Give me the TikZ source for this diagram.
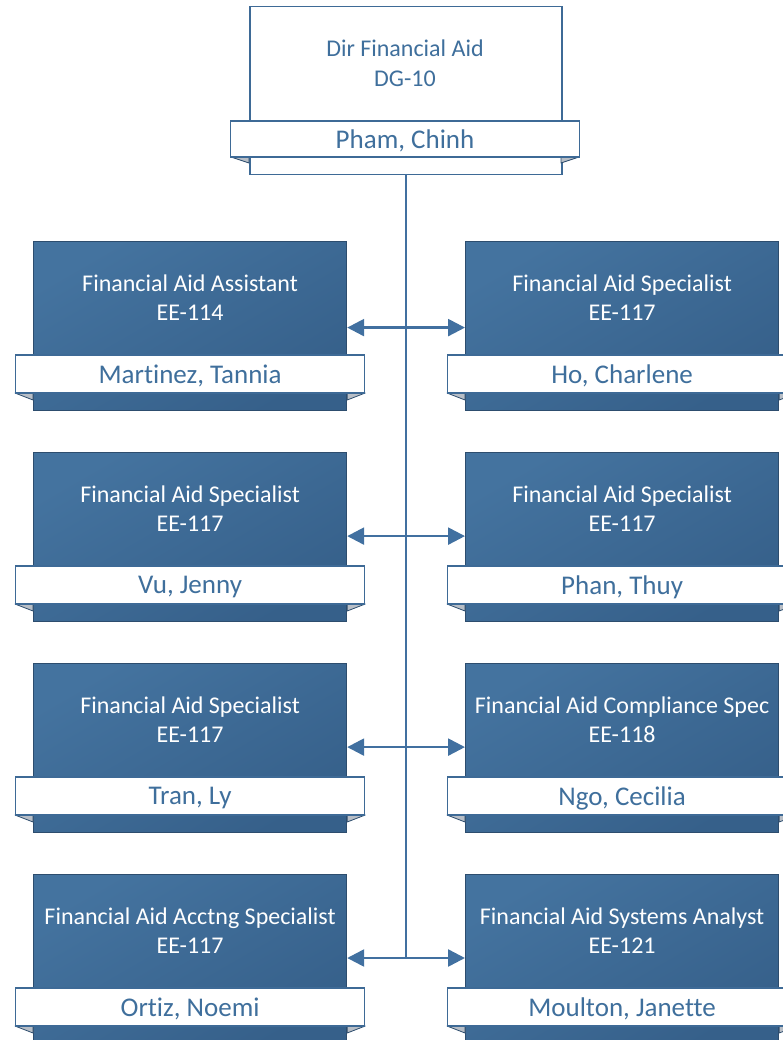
\documentclass[tikz,border=0pt]{standalone}
\usepackage{fontspec}
\setmainfont{Carlito}[Ligatures=NoCommon]
\usetikzlibrary{arrows.meta}
\definecolor{boxtop}{HTML}{44739F}
\definecolor{boxbot}{HTML}{36608A}
\definecolor{boxedge}{HTML}{2D4D6E}
\definecolor{bandedge}{HTML}{3E6A96}
\definecolor{txtblue}{HTML}{3F6F9C}
\definecolor{linecol}{HTML}{4170A0}
\definecolor{foldcol}{HTML}{B8BEC6}
\newcommand{\lowertext}[1]{\raisebox{-2pt}[\height][\depth]{#1}}
\tikzset{
  darkbox/.style={draw=boxedge, line width=1.2pt, top color=boxtop, bottom color=boxbot, shading angle=30,
    minimum width=313pt, minimum height=169pt, inner sep=0pt, anchor=north west},
  topbox/.style={draw=bandedge, line width=1.5pt, fill=white,
    minimum width=312pt, minimum height=168pt, inner sep=0pt, anchor=north west},
  band/.style={draw=bandedge, line width=1.2pt, fill=white, minimum width=349pt, minimum height=38pt,
    inner sep=0pt, font=\fontsize{27}{30}\selectfont, text=txtblue},
  ttl/.style={align=center, font=\fontsize{24}{29}\selectfont, text=white},
  fold/.style={fill=foldcol, draw=boxedge, line width=0.8pt, line join=round},
  conn/.style={draw=linecol, line width=2.5pt},
  arr/.style={conn, {Triangle[length=17pt,width=17pt]}-{Triangle[length=17pt,width=17pt]}},
}
\newcommand{\staff}[6]{% name, x, y, title, grade, person
  \node[darkbox] (#1) at (#2,#3) {};
  \draw[fold] ([xshift=-18pt,yshift=-152pt]#1.north west) -- ([yshift=-152pt]#1.north west) -- ([yshift=-159pt]#1.north west) -- cycle;
  \draw[fold] ([xshift=18pt,yshift=-152pt]#1.north east) -- ([yshift=-152pt]#1.north east) -- ([yshift=-159pt]#1.north east) -- cycle;
  \node[band] (#1b) at ([yshift=-133pt]#1.north) {\lowertext{#6}};
  \node[ttl] (#1t) at ([yshift=-57pt]#1.north) {#4\\#5};
}
\begin{document}
\begin{tikzpicture}[x=1pt,y=-1pt]
\useasboundingbox (0,0) rectangle (783,1040);
% top box
\node[topbox] (dir) at (249,6) {};
\draw[fold] (231,157) -- (249,157) -- (249,163) -- cycle;
\draw[fold] (579,157) -- (561,157) -- (561,163) -- cycle;
\node[band, minimum height=36pt] (dirb) at (405,139) {\lowertext{Pham, Chinh}};
\node[align=center, font=\fontsize{24}{30}\selectfont, text=txtblue] (dirt) at (405,63) {Dir Financial Aid\\DG-10};
% staff
\staff{a1}{33}{241}{Financial Aid Assistant}{EE-114}{Martinez, Tannia}
\staff{b1}{465}{241}{Financial Aid Specialist}{EE-117}{Ho, Charlene}
\staff{a2}{33}{452}{Financial Aid Specialist}{EE-117}{Vu, Jenny}
\staff{b2}{465}{452}{Financial Aid Specialist}{EE-117}{Phan, Thuy}
\staff{a3}{33}{663}{Financial Aid Specialist}{EE-117}{Tran, Ly}
\staff{b3}{465}{663}{Financial Aid Compliance Spec}{EE-118}{Ngo, Cecilia}
\staff{a4}{33}{874}{Financial Aid Acctng Specialist}{EE-117}{Ortiz, Noemi}
\staff{b4}{465}{874}{Financial Aid Systems Analyst}{EE-121}{Moulton, Janette}
% connectors
\coordinate (spineend) at (406,958);
\draw[conn] (406,174) -- (spineend);
\draw[arr] ([yshift=-1.5pt]a1.east) -- ([yshift=-1.5pt]b1.west);
\draw[arr] ([yshift=1pt]a2.east) -- ([yshift=1pt]b2.west);
\draw[arr] ([yshift=1pt]a3.east) -- ([yshift=1pt]b3.west);
\draw[arr] (a4.east |- spineend) -- (b4.west |- spineend);
\end{tikzpicture}
\end{document}
